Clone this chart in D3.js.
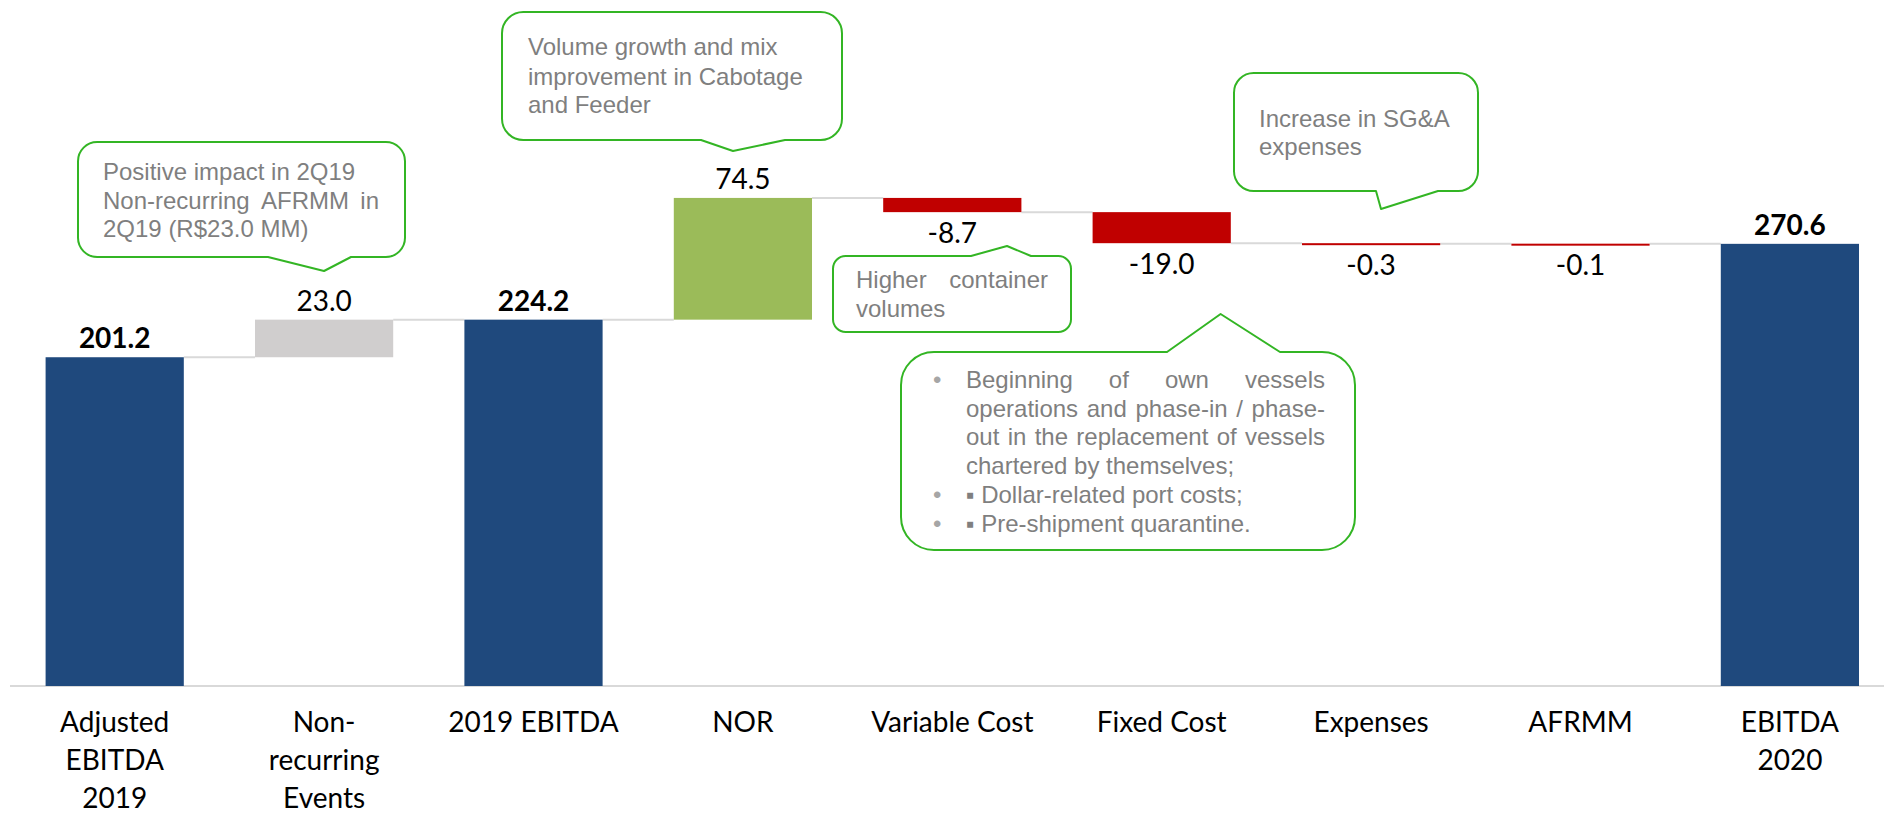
<!DOCTYPE html>
<html lang="en">
  <head>
    <meta charset="utf-8">
    <title>EBITDA Bridge</title>
    <script src="https://d3js.org/d3.v7.min.js"></script>
    <style>
      body {
        margin: 0;
        background: #ffffff;
      }
      svg {
        display: block;
      }
    </style>
  </head>
  <body>
    <div id="chart"></div>
    <script>
      // categories and values of the bridge
      const categories = [
        "Adjusted EBITDA 2019",
        "Non-recurring Events",
        "2019 EBITDA",
        "NOR",
        "Variable Cost",
        "Fixed Cost",
        "Expenses",
        "AFRMM",
        "EBITDA 2020"
      ];
      const values = [201.2, 23.0, 224.2, 74.5, -8.7, -19.0, -0.3, -0.1, 270.6];
      // total bars start from zero, the others float on the running sum
      const barTypes = ["total", "event", "total", "change", "change", "change", "change", "change", "total"];
      // tick labels, split into lines
      const tickLabels = [
        ["Adjusted", "EBITDA", "2019"],
        ["Non-", "recurring", "Events"],
        ["2019 EBITDA"],
        ["NOR"],
        ["Variable Cost"],
        ["Fixed Cost"],
        ["Expenses"],
        ["AFRMM"],
        ["EBITDA", "2020"]
      ];

      const width = 1884;
      const height = 814;

      const colors = {
        total: "#1F497D",
        event: "#D0CECE",
        up: "#9BBB59",
        down: "#C00000"
      };

      // running sum for the floating bars
      let running = 0;
      const bars = categories.map((c, i) => {
        let start, end;
        if (barTypes[i] === "total") {
          start = 0;
          end = values[i];
        } else {
          start = running;
          end = running + values[i];
        }
        running = end;
        return { cat: c, value: values[i], type: barTypes[i], start: start, end: end, i: i };
      });

      const svg = d3
        .select("#chart")
        .append("svg")
        .attr("width", width)
        .attr("height", height);

      svg.append("rect").attr("width", width).attr("height", height).attr("fill", "#ffffff");

      const x = d3
        .scaleBand()
        .domain(categories)
        .range([10, 1894.6])
        .paddingInner(0.34)
        .paddingOuter(0.17);

      const y = d3.scaleLinear().domain([0, 300]).range([686, 195.8]);

      // x axis line
      svg
        .append("line")
        .attr("x1", 10)
        .attr("x2", width)
        .attr("y1", y(0))
        .attr("y2", y(0))
        .attr("stroke", "#D9D9D9")
        .attr("stroke-width", 2);

      // connector lines between bars
      svg
        .selectAll(".connector")
        .data(bars.slice(0, -1))
        .enter()
        .append("line")
        .attr("class", "connector")
        .attr("x1", (d) => x(d.cat) + x.bandwidth())
        .attr("x2", (d) => x(categories[d.i + 1]))
        .attr("y1", (d) => y(d.end))
        .attr("y2", (d) => y(d.end))
        .attr("stroke", "#D9D9D9")
        .attr("stroke-width", 2);

      function barColor(d) {
        if (d.type === "total") return colors.total;
        if (d.type === "event") return colors.event;
        return d.value >= 0 ? colors.up : colors.down;
      }

      // bars
      svg
        .selectAll(".bar")
        .data(bars)
        .enter()
        .append("rect")
        .attr("class", "bar")
        .attr("x", (d) => x(d.cat))
        .attr("width", x.bandwidth())
        .attr("y", (d) => y(Math.max(d.start, d.end)))
        .attr("height", (d) => Math.max(2, Math.abs(y(d.start) - y(d.end))))
        .attr("fill", barColor);

      // value labels, above for gains, below for losses
      svg
        .selectAll(".value")
        .data(bars)
        .enter()
        .append("text")
        .attr("class", "value")
        .attr("x", (d) => x(d.cat) + x.bandwidth() / 2)
        .attr("y", (d) =>
          d.value >= 0 ? y(Math.max(d.start, d.end)) - 9 : y(Math.min(d.start, d.end)) + 31
        )
        .attr("text-anchor", "middle")
        .attr("font-family", "Lato, 'Open Sans', sans-serif")
        .attr("font-size", 28)
        .attr("font-weight", (d) => (d.type === "total" ? "bold" : "normal"))
        .attr("fill", "#000000")
        .text((d) => d.value.toFixed(1));

      // category axis
      const axis = svg
        .append("g")
        .attr("transform", "translate(0," + y(0) + ")")
        .call(d3.axisBottom(x).tickSize(0));
      axis.select(".domain").remove();
      axis
        .selectAll(".tick text")
        .attr("font-family", "Lato, 'Open Sans', sans-serif")
        .attr("font-size", 28)
        .attr("fill", "#000000")
        .attr("y", 0)
        .attr("dy", null)
        .text(null)
        .each(function (d, i) {
          const t = d3.select(this);
          tickLabels[i].forEach((line, k) => {
            t.append("tspan").attr("x", 0).attr("y", 46 + k * 38).text(line);
          });
        });

      // callout boxes
      const callouts = [
        {
          box: [78, 142, 327, 115],
          tail: { side: "bottom", a: 268, tip: [324, 271], b: 351 },
          left: 103,
          right: 379,
          lines: [
            { text: "Positive impact in 2Q19", y: 180 },
            { text: "Non-recurring AFRMM in", y: 209, justify: true },
            { text: "2Q19 (R$23.0 MM)", y: 237 }
          ]
        },
        {
          box: [502, 12, 340, 128],
          tail: { side: "bottom", a: 701, tip: [733, 151], b: 785 },
          left: 528,
          right: 816,
          lines: [
            { text: "Volume growth and mix", y: 55 },
            { text: "improvement in Cabotage", y: 85 },
            { text: "and Feeder", y: 113 }
          ]
        },
        {
          box: [833, 256, 238, 76],
          tail: { side: "top", a: 971, tip: [1007, 246], b: 1031 },
          left: 856,
          right: 1048,
          lines: [
            { text: "Higher container", y: 288, justify: true },
            { text: "volumes", y: 317 }
          ]
        },
        {
          box: [901, 352, 454, 198],
          tail: { side: "top", a: 1167, tip: [1220.6, 314], b: 1280 },
          left: 966,
          right: 1325,
          lines: [
            { text: "Beginning of own vessels", y: 388, justify: true, bullet: true },
            { text: "operations and phase-in / phase-", y: 417, justify: true },
            { text: "out in the replacement of vessels", y: 445, justify: true },
            { text: "chartered by themselves;", y: 474 },
            { text: "\u25AA Dollar-related port costs;", y: 503, bullet: true },
            { text: "\u25AA Pre-shipment quarantine.", y: 532, bullet: true }
          ]
        },
        {
          box: [1234, 73, 244, 118],
          tail: { side: "bottom", a: 1376, tip: [1381, 209], b: 1438 },
          left: 1259,
          right: 1453,
          lines: [
            { text: "Increase in SG&A", y: 127 },
            { text: "expenses", y: 155 }
          ]
        }
      ];

      // rounded box with a wedge on the top or bottom edge
      function calloutPath(c) {
        const [bx, by, bw, bh] = c.box;
        const r = Math.min(bw, bh) / 6;
        const t = c.tail;
        const p = d3.path();
        p.moveTo(bx + r, by);
        if (t.side === "top") {
          p.lineTo(t.a, by);
          p.lineTo(t.tip[0], t.tip[1]);
          p.lineTo(t.b, by);
        }
        p.lineTo(bx + bw - r, by);
        p.arcTo(bx + bw, by, bx + bw, by + r, r);
        p.lineTo(bx + bw, by + bh - r);
        p.arcTo(bx + bw, by + bh, bx + bw - r, by + bh, r);
        if (t.side === "bottom") {
          p.lineTo(t.b, by + bh);
          p.lineTo(t.tip[0], t.tip[1]);
          p.lineTo(t.a, by + bh);
        }
        p.lineTo(bx + r, by + bh);
        p.arcTo(bx, by + bh, bx, by + bh - r, r);
        p.lineTo(bx, by + r);
        p.arcTo(bx, by, bx + r, by, r);
        p.closePath();
        return p.toString();
      }

      const notes = svg.append("g").attr("class", "callouts");

      callouts.forEach((c) => {
        const g = notes.append("g");
        g.append("path")
          .attr("d", calloutPath(c))
          .attr("fill", "#ffffff")
          .attr("stroke", "#33B524")
          .attr("stroke-width", 2)
          .attr("stroke-linejoin", "round");

        c.lines.forEach((ln) => {
          if (ln.bullet) {
            g.append("text")
              .attr("x", c.box[0] + 32)
              .attr("y", ln.y)
              .attr("font-family", "'Liberation Sans', Arial, sans-serif")
              .attr("font-size", 24)
              .attr("fill", "#A6A6A6")
              .text("\u2022");
          }
          const t = g
            .append("text")
            .attr("x", c.left)
            .attr("y", ln.y)
            .attr("font-family", "'Liberation Sans', Arial, sans-serif")
            .attr("font-size", 24)
            .attr("fill", "#7F7F7F");
          if (!ln.justify) {
            t.text(ln.text);
            return;
          }
          // spread the words over the full text width
          const words = ln.text.split(/\s+/);
          const spans = words.map((w) => t.append("tspan").text(w));
          const widths = spans.map((s) => s.node().getComputedTextLength());
          const gap = (c.right - c.left - d3.sum(widths)) / (words.length - 1);
          let cx = c.left;
          spans.forEach((s, k) => {
            s.attr("x", cx);
            cx += widths[k] + gap;
          });
        });
      });
    </script>
  </body>
</html>
